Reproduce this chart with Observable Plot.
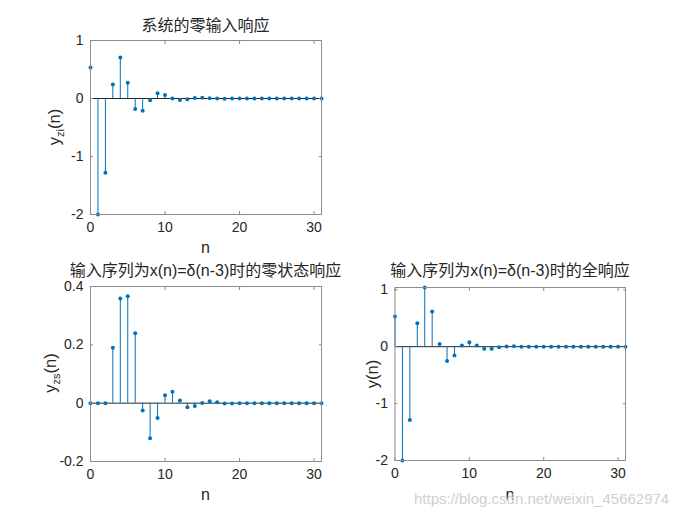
<!DOCTYPE html>
<html>
<head>
<meta charset="utf-8">
<script src="https://cdn.jsdelivr.net/npm/d3@7"></script>
<script src="https://cdn.jsdelivr.net/npm/@observablehq/plot@0.6"></script>
<style>
  html, body { margin: 0; padding: 0; background: #fff; }
  #wrap { position: relative; width: 692px; height: 519px; overflow: hidden; font-family: "Liberation Sans", "Noto Sans CJK SC", sans-serif; color: #262626; }
  .panel { position: absolute; }
  .lbl { position: absolute; white-space: nowrap; font-size: 16px; line-height: 1; color: #262626; }
  .title { position: absolute; white-space: nowrap; font-size: 16px; line-height: 1; color: #262626; transform: translateX(-50%); font-family: "Liberation Sans", "Noto Sans CJK SC", sans-serif; }
  .ylab { position: absolute; white-space: nowrap; font-size: 16.5px; line-height: 1; transform: translate(-50%, -50%) rotate(-90deg); }
  .ylab sub { font-size: 11px; vertical-align: -4px; }
  .wm { position: absolute; font-size: 15px; color: #d0d0d0; white-space: nowrap; }
</style>
</head>
<body>
<div id="wrap"></div>
<script>
// ---- data ----
const n = d3.range(0, 32);
const yzi = [0.535, -2, -1.28, 0.24, 0.706, 0.27, -0.18, -0.21, -0.03, 0.09, 0.062, -0.002,
             -0.025, -0.012, 0.01, 0.012, 0.004, -0.002, -0.003, -0.001, 0.001, 0.001,
             0, 0, 0, 0, 0, 0, 0, 0, 0, 0];
const yzs = [0, 0, 0, 0.19, 0.359, 0.367, 0.24, -0.025, -0.12, -0.051, 0.027, 0.039,
             0.009, -0.014, -0.01, 0.001, 0.007, 0.003, -0.001, -0.001, 0, 0,
             0, 0, 0, 0, 0, 0, 0, 0, 0, 0];
const ytot = [0.53, -2, -1.29, 0.41, 1.04, 0.62, 0.046, -0.25, -0.157, 0.023, 0.08, 0.023,
              -0.035, -0.035, -0.01, 0.005, 0.008, 0.001, -0.003, -0.001, 0, 0,
              0, 0, 0, 0, 0, 0, 0, 0, 0, 0];
const xTicks = [0, 10, 20, 30];
const yTicksTop = [-2, -1, 0, 1];
const yTicksZs = [-0.2, 0, 0.2, 0.4];
const yTicksTot = [-2, -1, 0, 1];
const titles = ["系统的零输入响应", "输入序列为x(n)=δ(n-3)时的零状态响应", "输入序列为x(n)=δ(n-3)时的全响应"];

const blue = "#0072BD";
const wrap = document.getElementById("wrap");

function stemPanel(vals, yDomain, yTicks, box) {
  const data = n.map((k, i) => ({n: k, v: vals[i]}));
  const fmt = d => String(d);
  const p = Plot.plot({
    width: box.w, height: box.h,
    marginLeft: box.ml, marginRight: box.mr, marginTop: box.mt, marginBottom: box.mb,
    style: {fontFamily: "Liberation Sans, sans-serif", fontSize: "14px", color: "#262626", background: "transparent"},
    x: {domain: [0, 31]},
    y: {domain: yDomain},
    marks: [
      Plot.ruleY([0], {stroke: "#262626", strokeWidth: 1}),
      Plot.ruleX(data, {x: "n", y1: 0, y2: "v", stroke: blue, strokeWidth: 1}),
      Plot.dot(data, {x: "n", y: "v", r: 2, fill: blue, stroke: null}),
      Plot.frame({stroke: "#8c8c8c", strokeWidth: 1}),
      Plot.axisX({anchor: "bottom", ticks: xTicks, tickSize: -3, tickPadding: 11, stroke: "#8c8c8c", tickFormat: fmt, fontSize: 14, label: null}),
      Plot.axisX({anchor: "top", ticks: xTicks, tickSize: -3, tickFormat: () => "", stroke: "#8c8c8c", label: null}),
      Plot.axisY({anchor: "left", ticks: yTicks, tickSize: -3, tickPadding: 10, stroke: "#8c8c8c", tickFormat: fmt, fontSize: 14, label: null}),
      Plot.axisY({anchor: "right", ticks: yTicks, tickSize: -3, tickFormat: () => "", stroke: "#8c8c8c", label: null})
    ]
  });
  p.classList.add("panel");
  p.style.left = box.x + "px";
  p.style.top = box.y + "px";
  wrap.appendChild(p);
}

// top panel: frame x 90-321, y 40-214
stemPanel(yzi, [-2, 1], yTicksTop, {x: 0, y: 0, w: 346, h: 260, ml: 90, mr: 25, mt: 40, mb: 46});
// bottom-left: frame x 90-321, y 286-461
stemPanel(yzs, [-0.2, 0.4], yTicksZs, {x: 0, y: 250, w: 346, h: 260, ml: 90, mr: 25, mt: 36, mb: 49});
// bottom-right: frame x 394.5-625, y 287-460
stemPanel(ytot, [-2, 1.04], yTicksTot, {x: 346, y: 250, w: 346, h: 260, ml: 48.5, mr: 67, mt: 37, mb: 50});

function addTitle(text, cx, top) {
  const d = document.createElement("div");
  d.className = "title"; d.textContent = text;
  d.style.left = cx + "px"; d.style.top = top + "px";
  wrap.appendChild(d);
}
addTitle(titles[0], 205.5, 18);
addTitle(titles[1], 205.5, 263);
addTitle(titles[2], 510, 263);

function addXLabel(cx, top) {
  const d = document.createElement("div");
  d.className = "lbl"; d.textContent = "n";
  d.style.left = (cx - 4.5) + "px"; d.style.top = top + "px";
  wrap.appendChild(d);
}
addXLabel(205.5, 240);
addXLabel(205.5, 487);
addXLabel(510, 487);

function addYLabel(html, cx, cy) {
  const d = document.createElement("div");
  d.className = "ylab"; d.innerHTML = html;
  d.style.left = cx + "px"; d.style.top = cy + "px";
  wrap.appendChild(d);
}
addYLabel("y<sub>zi</sub>(n)", 56, 127);
addYLabel("y<sub>zs</sub>(n)", 52, 373);
addYLabel("y(n)", 372, 374);

const wm = document.createElement("div");
wm.className = "wm"; wm.textContent = "https://blog.csdn.net/weixin_45662974";
wm.style.left = "414px"; wm.style.top = "490px";
wrap.appendChild(wm);
</script>
</body>
</html>
